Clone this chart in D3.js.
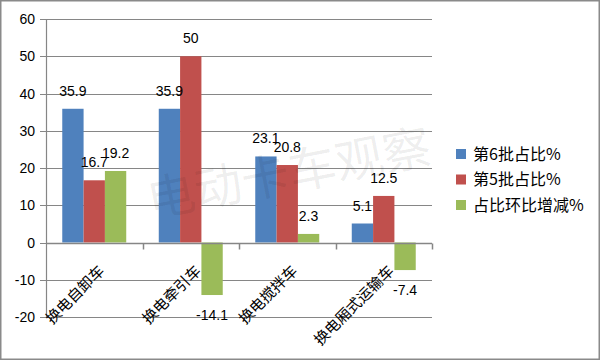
<!DOCTYPE html>
<html><head><meta charset="utf-8">
<script src="https://cdn.jsdelivr.net/npm/d3@7"></script>
<style>html,body{margin:0;padding:0;background:#fff;}svg{display:block;}</style>
</head><body>
<script>
const categories = ["换电自卸车","换电牵引车","换电搅拌车","换电厢式运输车"];
const seriesNames = ["第6批占比%","第5批占比%","占比环比增减%"];
const batch6 = [35.9, 35.9, 23.1, 5.1];
const batch5 = [16.7, 50, 20.8, 12.5];
const change = [19.2, -14.1, 2.3, -7.4];
const yTicks = [-20,-10,0,10,20,30,40,50,60];
const colors = ["#4F81BD","#C0504D","#9BBB59"];
const series = [batch6, batch5, change];

const W = 600, H = 360;
const svg = d3.select("body").append("svg").attr("width", W).attr("height", H);
svg.append("rect").attr("x",0.75).attr("y",0.75).attr("width",W-1.5).attr("height",H-1.5)
  .attr("fill","#fff").attr("stroke","#8a8a8a").attr("stroke-width",1.5);

const plot = {l:46, r:432, t:19, b:317};
const x0 = d3.scaleBand().domain(categories).range([plot.l, plot.r]).paddingInner(0.337).paddingOuter(0.1685);
const x1 = d3.scaleBand().domain(d3.range(3)).range([0, x0.bandwidth()]);
const y = d3.scaleLinear().domain([-20,60]).range([plot.b, plot.t]);
const numFont = "'Liberation Sans', Arial, sans-serif";
const cjkFont = "'Noto Sans CJK SC', sans-serif";

// gridlines
svg.append("g").selectAll("line").data(yTicks).join("line")
  .attr("x1",plot.l-6).attr("x2",plot.r).attr("y1",d=>Math.round(y(d))+0.5).attr("y2",d=>Math.round(y(d))+0.5)
  .attr("stroke","#868686").attr("stroke-width",1.2);
// y axis line
svg.append("line").attr("x1",plot.l+0.5).attr("x2",plot.l+0.5).attr("y1",plot.t).attr("y2",plot.b)
  .attr("stroke","#868686").attr("stroke-width",1.2);
// y labels
svg.append("g").selectAll("text").data(yTicks).join("text")
  .attr("x",35).attr("y",d=>y(d)+5).attr("text-anchor","end")
  .attr("font-family",numFont).attr("font-size",14).attr("fill","#000").text(d=>d);

// bars
const g = svg.append("g");
categories.forEach((c,i)=>{
  series.forEach((s,j)=>{
    const v = s[i];
    const bx = x0(c)+x1(j);
    g.append("rect").attr("x",bx).attr("width",x1.bandwidth())
      .attr("y",y(Math.max(0,v))).attr("height",Math.abs(y(v)-y(0)))
      .attr("fill",colors[j]);
  });
});
// category axis (zero line) and ticks
const zy = Math.round(y(0))+0.5;
svg.append("line").attr("x1",plot.l).attr("x2",plot.r).attr("y1",zy).attr("y2",zy)
  .attr("stroke","#868686").attr("stroke-width",1.5);
const tickXs = categories.map((c,i)=>plot.l + (plot.r-plot.l)/categories.length*(i+1));
svg.append("g").selectAll("line").data(tickXs).join("line")
  .attr("x1",d=>Math.round(d)+0.5).attr("x2",d=>Math.round(d)+0.5).attr("y1",zy).attr("y2",zy+6)
  .attr("stroke","#868686").attr("stroke-width",1.5);

// watermark (on top, faint)
svg.append("text").attr("transform","translate(292,190) rotate(-11)")
  .attr("text-anchor","middle").attr("font-family",cjkFont).attr("font-size",48)
  .attr("fill","#000").attr("fill-opacity",0.07).text("电动卡车观察");

// value labels
categories.forEach((c,i)=>{
  series.forEach((s,j)=>{
    const v = s[i];
    const cx = x0(c)+x1(j)+x1.bandwidth()/2;
    const ly = v>=0 ? y(v)-18+5 : y(v)+20+5;
    svg.append("text").attr("x",cx).attr("y",ly).attr("text-anchor","middle")
      .attr("font-family",numFont).attr("font-size",14).attr("fill","#000").text(v);
  });
});

// category labels
svg.append("g").selectAll("text").data(categories).join("text")
  .attr("transform",d=>`translate(${x0(d)+x0.bandwidth()/2+11},${272}) rotate(-45)`)
  .attr("text-anchor","end").attr("font-family",cjkFont).attr("font-size",15).attr("fill","#000")
  .text(d=>d);

// legend
const lg = svg.append("g");
seriesNames.forEach((n,j)=>{
  const ly = 154 + j*25.5;
  lg.append("rect").attr("x",456).attr("y",ly-5).attr("width",10).attr("height",10).attr("fill",colors[j]);
  lg.append("text").attr("x",473).attr("y",ly+5.5).attr("font-family",cjkFont).attr("font-size",16)
    .attr("fill","#000").text(n);
});
</script>
</body></html>
